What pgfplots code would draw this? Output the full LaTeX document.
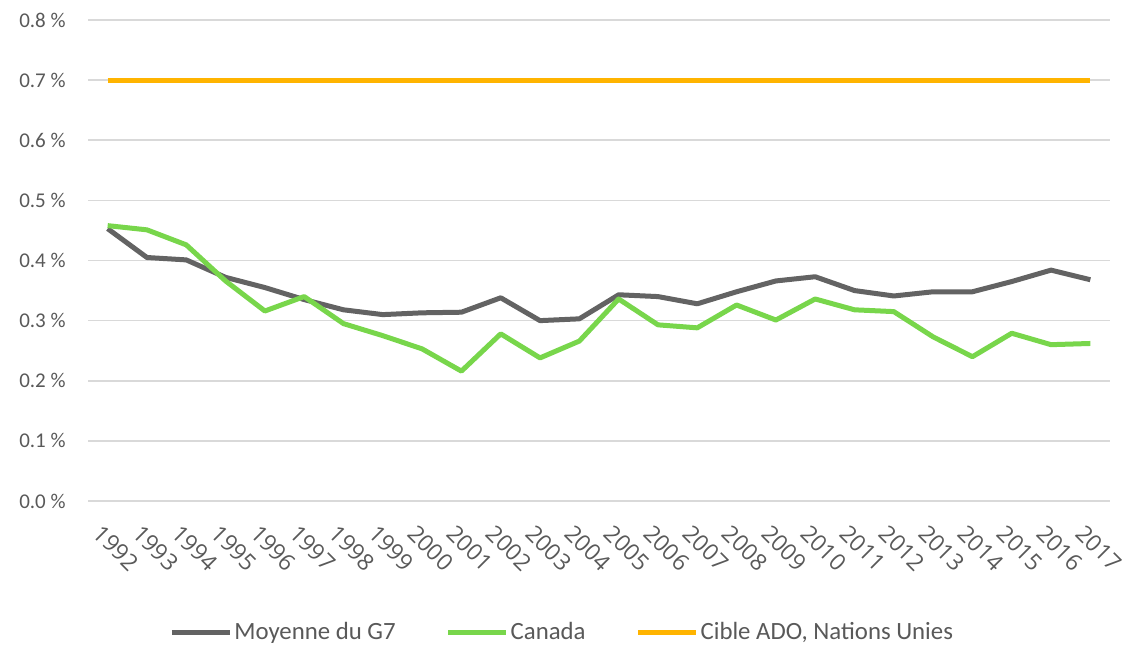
\documentclass[border=0pt]{standalone}
\usepackage{pgfplots}
\pgfplotsset{compat=1.18}
\usepackage{fontspec}
\setmainfont{Carlito}
\newfontfamily\xfont{Open Sans}
\definecolor{gsept}{RGB}{99,99,99}
\definecolor{canvert}{RGB}{120,214,75}
\definecolor{cibleor}{RGB}{255,180,0}
\definecolor{grille}{RGB}{217,217,217}
\definecolor{texte}{RGB}{89,89,89}

\begin{document}
\begin{tikzpicture}
\begin{axis}[
  at={(0,0)}, anchor=south west,
  scale only axis, width=511bp, height=240.5bp,
  xmin=1991.5, xmax=2017.5, ymin=0, ymax=0.8,
  xtick={1992,...,2017},
  ytick={0,0.1,...,0.8},
  yticklabels={0.0 \%,0.1 \%,0.2 \%,0.3 \%,0.4 \%,0.5 \%,0.6 \%,0.7 \%,0.8 \%},
  /pgf/number format/assume math mode=true,
  xticklabel={\pgfmathprintnumber[set thousands separator={}]{\tick}},
  ymajorgrids, grid style={grille, line width=0.8bp},
  axis line style={draw=none},
  major tick length=0pt,
  tick label style={font=\fontsize{10.5bp}{12bp}\selectfont, text=texte},
  xticklabel style={font=\xfont\fontsize{11.5bp}{13bp}\selectfont,
    xshift=-2bp, yshift=-11bp, rotate=-45, anchor=north west, inner sep=0pt},
  yticklabel style={anchor=east, inner sep=0pt, xshift=-11bp},
  legend columns=3,
  legend style={draw=none, at={(0.464,-0.274)}, anchor=center,
    font=\fontsize{12.4bp}{14bp}\selectfont, text=texte,
    nodes={inner sep=1bp},
    /tikz/every even column/.append style={column sep=24bp}},
  legend image code/.code={\draw[#1, line width=2.5bp] (0bp,0bp) -- (29bp,0bp);},
  every axis plot/.append style={line width=2.5bp, line join=round},
]
\addplot[gsept, mark=none] coordinates {
(1992,0.453) (1993,0.405) (1994,0.401) (1995,0.372) (1996,0.355) (1997,0.335)
(1998,0.318) (1999,0.310) (2000,0.313) (2001,0.314) (2002,0.338) (2003,0.300)
(2004,0.303) (2005,0.343) (2006,0.340) (2007,0.328) (2008,0.348) (2009,0.366)
(2010,0.373) (2011,0.350) (2012,0.341) (2013,0.348) (2014,0.348) (2015,0.365)
(2016,0.384) (2017,0.368)};
\addlegendentry{Moyenne du G7}
\addplot[canvert, mark=none] coordinates {
(1992,0.458) (1993,0.451) (1994,0.426) (1995,0.366) (1996,0.316) (1997,0.340)
(1998,0.295) (1999,0.275) (2000,0.253) (2001,0.216) (2002,0.278) (2003,0.238)
(2004,0.266) (2005,0.336) (2006,0.293) (2007,0.288) (2008,0.326) (2009,0.301)
(2010,0.336) (2011,0.318) (2012,0.315) (2013,0.273) (2014,0.240) (2015,0.279)
(2016,0.260) (2017,0.262)};
\addlegendentry{Canada}
\addplot[cibleor, mark=none] coordinates {(1992,0.7) (2017,0.7)};
\addlegendentry{Cible ADO, Nations Unies}
\end{axis}
\pgfresetboundingbox
\path[use as bounding box] (-44bp,-74bp) rectangle (522.5bp,250.5bp);
\end{tikzpicture}
\end{document}
